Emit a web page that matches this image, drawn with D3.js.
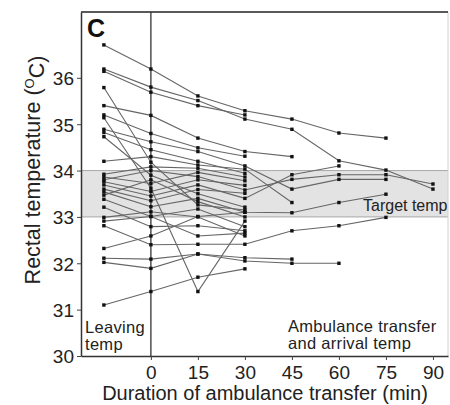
<!DOCTYPE html>
<html>
<head>
<meta charset="utf-8">
<script src="https://cdn.jsdelivr.net/npm/d3@7"></script>
<style>
  html, body { margin: 0; padding: 0; background: #fff; }
  svg { display: block; font-family: "Liberation Sans", Arial, sans-serif; }
</style>
</head>
<body>
<svg id="chart" width="450" height="405"></svg>
<script>
// Measurement times (min); -15 stands for the leaving temperature
const times = [-15, 0, 15, 30, 45, 60, 75, 90];
const xTickValues = [0, 15, 30, 45, 60, 75, 90];
const yTickValues = [30, 31, 32, 33, 34, 35, 36];
const targetRange = [33, 34];

// Rectal temperature per patient at each time (null = not measured)
const patientTemps = [
  [36.71, 36.19, 35.61, 35.29, 35.11, 34.81, 34.70, null],
  [36.19, 35.80, 35.51, 35.11, 34.89, 34.21, 34.01, 33.60],
  [36.14, 35.69, 35.40, 35.20, null, null, null, null],
  [35.79, 34.18, 33.26, 33.15, null, null, null, null],
  [35.40, 35.19, 34.70, 34.41, 34.30, null, null, null],
  [35.20, 34.80, 34.49, 34.31, null, null, null, null],
  [35.14, 33.62, 31.39, 32.91, null, null, null, null],
  [34.89, 34.62, 34.41, 34.10, 33.60, 33.81, 33.81, null],
  [34.82, 34.45, 34.20, 33.94, null, null, null, null],
  [34.73, 33.90, 33.50, 33.21, null, null, null, null],
  [34.20, 34.30, 34.12, 34.03, 33.31, null, null, null],
  [33.92, 34.08, 34.05, 33.86, null, null, null, null],
  [33.86, 33.72, 33.96, 33.78, null, null, null, null],
  [33.80, 34.00, 33.87, 33.58, 33.81, 33.91, 33.91, 33.71],
  [33.76, 33.55, 33.80, 33.68, null, null, null, null],
  [33.69, 33.45, 33.69, 33.40, 33.91, 34.10, null, null],
  [33.60, 33.35, 33.59, 33.51, null, null, null, null],
  [33.54, 33.22, 33.40, 33.10, 33.09, 33.31, 33.49, null],
  [33.47, 33.80, 33.33, 33.00, null, null, null, null],
  [33.38, 33.01, 33.17, 32.79, null, null, null, null],
  [33.21, 32.79, 32.81, 32.70, null, null, null, null],
  [32.99, 33.11, 33.00, 32.59, null, null, null, null],
  [32.91, 33.01, 32.59, 32.65, null, null, null, null],
  [32.81, 32.40, 32.41, 32.41, 32.70, 32.81, 32.99, null],
  [32.32, 32.59, 33.01, 33.10, null, null, null, null],
  [32.11, 32.09, 32.20, 32.05, 32.00, 32.00, null, null],
  [32.02, 31.89, 32.20, 32.12, 32.09, null, null, null],
  [31.10, 31.39, 31.70, 31.88, null, null, null, null]
];

const svg = d3.select("#chart");
const plotLeft = 81, plotRight = 448, plotTop = 12, plotBottom = 356;

const x = d3.scaleLinear().domain([-22.3, 94.8]).range([plotLeft, plotRight]);
const y = d3.scaleLinear().domain([30, 37.42]).range([plotBottom, plotTop]);

// target temperature band
svg.append("rect")
  .attr("x", plotLeft).attr("width", plotRight - plotLeft)
  .attr("y", y(targetRange[1])).attr("height", y(targetRange[0]) - y(targetRange[1]))
  .attr("fill", "#e3e3e3");
targetRange.forEach(v => {
  svg.append("line")
    .attr("x1", plotLeft).attr("x2", plotRight)
    .attr("y1", y(v)).attr("y2", y(v))
    .attr("stroke", "#a8a8a8").attr("stroke-width", 1);
});

// frame: light right edge, dark top edge
svg.append("line").attr("x1", plotRight).attr("x2", plotRight).attr("y1", plotTop).attr("y2", plotBottom)
  .attr("stroke", "#d0d0d0").attr("stroke-width", 1);
svg.append("line").attr("x1", plotLeft).attr("x2", plotRight).attr("y1", plotTop).attr("y2", plotTop)
  .attr("stroke", "#222").attr("stroke-width", 1.5);

// divider between leaving temp and transfer
svg.append("line").attr("x1", x(0)).attr("x2", x(0)).attr("y1", plotTop).attr("y2", plotBottom)
  .attr("stroke", "#333").attr("stroke-width", 1.3);

// patient traces
const line = d3.line()
  .defined(d => d.v !== null)
  .x(d => x(d.t))
  .y(d => y(d.v));

const series = patientTemps.map(row => row.map((v, i) => ({ t: times[i], v })));

svg.append("g").selectAll("path")
  .data(series)
  .join("path")
  .attr("d", line)
  .attr("fill", "none")
  .attr("stroke", "#666")
  .attr("stroke-width", 1.1);

const pts = series.flat().filter(d => d.v !== null);
const s = 3.4;
svg.append("g").selectAll("rect")
  .data(pts)
  .join("rect")
  .attr("x", d => x(d.t) - s / 2)
  .attr("y", d => y(d.v) - s / 2)
  .attr("width", s).attr("height", s)
  .attr("fill", "#111");

// axes
const yAxis = svg.append("g").attr("transform", `translate(${plotLeft},0)`)
  .call(d3.axisLeft(y).tickValues(yTickValues).tickSize(4).tickSizeOuter(0).tickPadding(3));
const xAxis = svg.append("g").attr("transform", `translate(0,${plotBottom})`)
  .call(d3.axisBottom(x).tickValues(xTickValues).tickSize(4).tickSizeOuter(0).tickPadding(6));

[yAxis, xAxis].forEach(g => {
  g.select(".domain").attr("stroke", "#333").attr("stroke-width", 1.5);
  g.selectAll(".tick line").attr("stroke", "#444");
  g.selectAll(".tick text")
    .attr("fill", "#222")
    .style("font-size", "19px")
    .style("font-family", "'Liberation Sans', Arial, sans-serif");
});
yAxis.selectAll(".tick text").attr("dy", "0.36em");

// axis titles
svg.append("text")
  .attr("x", 265).attr("y", 400)
  .attr("text-anchor", "middle")
  .attr("fill", "#222")
  .style("font-size", "20px")
  .text("Duration of ambulance transfer (min)");

const yTitle = svg.append("text")
  .attr("transform", "translate(40,170) rotate(-90)")
  .attr("text-anchor", "middle")
  .attr("fill", "#222")
  .style("font-size", "21.5px");
yTitle.append("tspan").text("Rectal temperature (");
yTitle.append("tspan").attr("dy", "-0.45em").style("font-size", "13px").text("O");
yTitle.append("tspan").attr("dy", "0.45em").text("C)");

// panel letter and annotations
svg.append("text").attr("x", 87).attr("y", 37)
  .style("font-size", "25px").style("font-weight", "bold").attr("fill", "#111").text("C");

const note = (lines, x0, y0, size, gap, spacing) => {
  const t = svg.append("text").attr("fill", "#222")
    .style("font-size", size + "px")
    .style("letter-spacing", spacing + "px");
  lines.forEach((str, i) => {
    t.append("tspan").attr("x", x0).attr("y", y0 + i * gap).text(str);
  });
};
note(["Leaving", "temp"], 85, 332.5, 16.5, 17.5, 0.3);
note(["Ambulance  transfer", "and arrival temp"], 288, 331.5, 16.5, 17.5, 0.3);
note(["Target temp"], 363, 211, 16, 0, 0);
</script>
</body>
</html>
